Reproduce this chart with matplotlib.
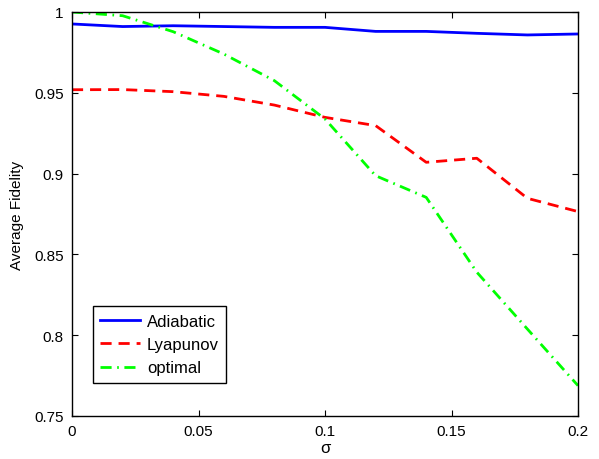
import matplotlib

matplotlib.use("Agg")

import matplotlib.pyplot as plt
import numpy as np

plt.rcParams["font.family"] = ["Liberation Sans", "DejaVu Sans"]

sigma = [0.0, 0.02, 0.04, 0.06, 0.08, 0.10, 0.12, 0.14, 0.16, 0.18, 0.20]
adiabatic = [0.9926, 0.991, 0.9915, 0.991, 0.9905, 0.9905, 0.988, 0.988, 0.9868, 0.9858, 0.9864]
lyapunov = [0.9519, 0.952, 0.9507, 0.9478, 0.9424, 0.9348, 0.9297, 0.907, 0.9095, 0.8847, 0.8765]
optimal = [1.0, 0.9977, 0.9878, 0.974, 0.9575, 0.9338, 0.8987, 0.8853, 0.839, 0.8038, 0.7688]

xticks = [0, 0.05, 0.1, 0.15, 0.2]
xtick_labels = ["0", "0.05", "0.1", "0.15", "0.2"]
yticks = [0.75, 0.8, 0.85, 0.9, 0.95, 1.0]
ytick_labels = ["0.75", "0.8", "0.85", "0.9", "0.95", "1"]

fig = plt.figure(figsize=(5.99, 4.60), dpi=100)
ax = fig.add_axes([72 / 599, 1 - 417 / 460, 506 / 599, 404 / 460])

ax.plot(sigma, adiabatic, "-", color=(0, 0, 1), lw=2, label="Adiabatic")
ax.plot(sigma, lyapunov, "--", color=(1, 0, 0), lw=2, dashes=(4, 2.5), label="Lyapunov")
ax.plot(sigma, optimal, "-.", color=(0, 1, 0), lw=2, dashes=(4, 2, 0.6, 2), label="optimal")

ax.set_xlim(0, 0.2)
ax.set_ylim(0.75, 1.0)
ax.set_xticks(xticks)
ax.set_xticklabels(xtick_labels)
ax.set_yticks(yticks)
ax.set_yticklabels(ytick_labels)
ax.tick_params(direction="in", top=True, right=True, labelsize=11, length=4, pad=6)
for s in ax.spines.values():
    s.set_linewidth(1.0)

ax.set_xlabel("σ", fontsize=12, labelpad=1)
ax.set_ylabel("Average Fidelity", fontsize=11, labelpad=7)

leg = ax.legend(loc="lower left", bbox_to_anchor=(0.041, 0.082), fontsize=12,
                fancybox=False, edgecolor="black", framealpha=1,
                handlelength=2.4, handletextpad=0.4, borderpad=0.45,
                labelspacing=0.5, borderaxespad=0)
leg.get_frame().set_linewidth(1.0)

fig.savefig("out.png", dpi=100)
